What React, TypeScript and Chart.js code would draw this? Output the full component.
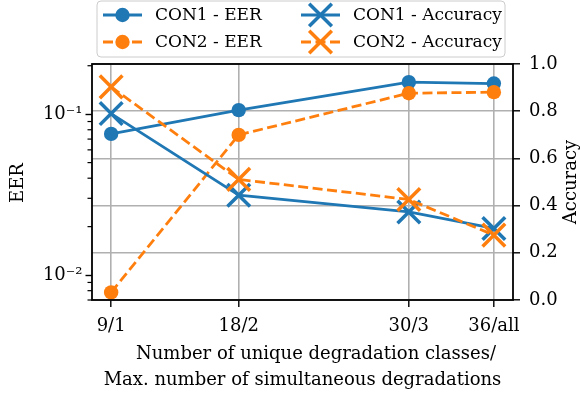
import React, { useEffect, useRef } from "react";
import { Chart, registerables } from "chart.js";
Chart.register(...registerables);

const xPositions = [9, 18, 30, 36];
const xLabels = ["9/1", "18/2", "30/3", "36/all"];
const con1EER = [0.0754, 0.106, 0.158, 0.155];
const con2EER = [0.0078, 0.0743, 0.135, 0.137];
const con1Acc = [0.79, 0.444, 0.373, 0.303];
const con2Acc = [0.903, 0.511, 0.426, 0.275];
const accTicks = [0, 0.2, 0.4, 0.6, 0.8, 1.0];
const eerMajorTicks = [0.01, 0.1];
const eerMajorLabels = ["10\u207B\u00B2", "10\u207B\u00B9"];
const eerMinorTicks = [0.007, 0.008, 0.009, 0.02, 0.03, 0.04, 0.05, 0.06, 0.07, 0.08, 0.09, 0.2];
const seriesNames = ["CON1 - EER", "CON2 - EER", "CON1 - Accuracy", "CON2 - Accuracy"];

const BLUE = "#1f77b4";
const ORANGE = "#ff7f0e";
const FONT = "DejaVu Serif";
const FS = 18;
const LEG_FS = 17;
const LW = 2.8;
const DASH = [10, 4.5];
const DOT_R = 7.2;
const X_R = 16;
const X_W = 3.5;

function pts(vals: number[]) {
  return xPositions.map((x, i) => ({ x, y: vals[i] }));
}

function drawX(ctx: CanvasRenderingContext2D, x: number, y: number, r: number, color: string) {
  const o = r * Math.SQRT1_2;
  ctx.save();
  ctx.setLineDash([]);
  ctx.strokeStyle = color;
  ctx.lineWidth = X_W;
  ctx.beginPath();
  ctx.moveTo(x - o, y - o);
  ctx.lineTo(x + o, y + o);
  ctx.moveTo(x - o, y + o);
  ctx.lineTo(x + o, y - o);
  ctx.stroke();
  ctx.restore();
}

function drawDot(ctx: CanvasRenderingContext2D, x: number, y: number, r: number, color: string) {
  ctx.save();
  ctx.fillStyle = color;
  ctx.beginPath();
  ctx.arc(x, y, r, 0, Math.PI * 2);
  ctx.fill();
  ctx.restore();
}

const decorPlugin = {
  id: "decor",
  afterDraw(chart: any) {
    const ctx: CanvasRenderingContext2D = chart.ctx;
    const a = chart.chartArea;
    const yL = chart.scales.yL;
    ctx.save();
    // frame
    ctx.strokeStyle = "#000";
    ctx.lineWidth = 1.8;
    ctx.strokeRect(a.left, a.top, a.right - a.left, a.bottom - a.top);
    // minor ticks
    ctx.lineWidth = 1.2;
    for (const v of eerMinorTicks) {
      const y = yL.getPixelForValue(v);
      if (y < a.top - 0.5 || y > a.bottom + 0.5) continue;
      ctx.beginPath();
      ctx.moveTo(a.left - 4.5, y);
      ctx.lineTo(a.left, y);
      ctx.stroke();
    }
    // axis titles
    ctx.fillStyle = "#000";
    ctx.font = `${FS}px "${FONT}"`;
    ctx.textAlign = "center";
    ctx.textBaseline = "alphabetic";
    ctx.fillText("Number of unique degradation classes/", 316, 359);
    ctx.fillText("Max. number of simultaneous degradations", 302.5, 385);
    ctx.save();
    ctx.translate(23, 183);
    ctx.rotate(-Math.PI / 2);
    ctx.fillText("EER", 0, 0);
    ctx.restore();
    ctx.save();
    ctx.translate(576, 182);
    ctx.rotate(-Math.PI / 2);
    ctx.fillText("Accuracy", 0, 0);
    ctx.restore();

    // legend
    const bx = 97, by = 1, bw = 408, bh = 56, rr = 4;
    ctx.beginPath();
    ctx.moveTo(bx + rr, by);
    ctx.lineTo(bx + bw - rr, by);
    ctx.quadraticCurveTo(bx + bw, by, bx + bw, by + rr);
    ctx.lineTo(bx + bw, by + bh - rr);
    ctx.quadraticCurveTo(bx + bw, by + bh, bx + bw - rr, by + bh);
    ctx.lineTo(bx + rr, by + bh);
    ctx.quadraticCurveTo(bx, by + bh, bx, by + bh - rr);
    ctx.lineTo(bx, by + rr);
    ctx.quadraticCurveTo(bx, by, bx + rr, by);
    ctx.closePath();
    ctx.fillStyle = "rgba(255,255,255,0.8)";
    ctx.fill();
    ctx.strokeStyle = "#cccccc";
    ctx.lineWidth = 1;
    ctx.stroke();

    const entries = [
      { col: 0, row: 0, color: BLUE, dash: [] as number[], marker: "o" },
      { col: 0, row: 1, color: ORANGE, dash: DASH, marker: "o" },
      { col: 1, row: 0, color: BLUE, dash: [] as number[], marker: "x" },
      { col: 1, row: 1, color: ORANGE, dash: DASH, marker: "x" },
    ];
    const colX = [103, 301];
    const rowY = [15, 42];
    entries.forEach((e, i) => {
      const x0 = colX[e.col];
      const y0 = rowY[e.row];
      ctx.save();
      ctx.strokeStyle = e.color;
      ctx.lineWidth = LW;
      ctx.setLineDash(e.dash);
      ctx.beginPath();
      ctx.moveTo(x0, y0);
      ctx.lineTo(x0 + 39, y0);
      ctx.stroke();
      ctx.restore();
      if (e.marker === "o") drawDot(ctx, x0 + 19.5, y0, DOT_R, e.color);
      else drawX(ctx, x0 + 19.5, y0, X_R, e.color);
      ctx.fillStyle = "#000";
      ctx.font = `${LEG_FS}px "${FONT}"`;
      ctx.textAlign = "left";
      ctx.textBaseline = "middle";
      ctx.fillText(seriesNames[i], x0 + 52, y0 + 1);
    });
    ctx.restore();
  },
};

export default function App() {
  const ref = useRef<HTMLCanvasElement | null>(null);
  useEffect(() => {
    if (!ref.current) return;
    const tickFont = { family: FONT, size: FS };
    const mk = (label: string, vals: number[], axis: string, color: string, dashed: boolean, marker: string, order: number) => ({
      label,
      data: pts(vals),
      yAxisID: axis,
      borderColor: color,
      backgroundColor: color,
      borderWidth: LW,
      borderDash: dashed ? DASH : [],
      pointStyle: marker === "o" ? "circle" : "crossRot",
      pointRadius: marker === "o" ? DOT_R : X_R,
      pointBorderWidth: marker === "o" ? 0 : X_W,
      pointBorderColor: color,
      pointBackgroundColor: color,
      order,
      clip: false,
    });
    const chart = new Chart(ref.current, {
      type: "line",
      data: {
        datasets: [
          mk(seriesNames[0], con1EER, "yL", BLUE, false, "o", 4),
          mk(seriesNames[1], con2EER, "yL", ORANGE, true, "o", 3),
          mk(seriesNames[2], con1Acc, "yR", BLUE, false, "x", 2),
          mk(seriesNames[3], con2Acc, "yR", ORANGE, true, "x", 1),
        ],
      },
      options: {
        animation: false,
        responsive: false,
        maintainAspectRatio: false,
        layout: { padding: { top: 64, left: 0, right: 0, bottom: 0 } },
        plugins: { legend: { display: false }, tooltip: { enabled: false } },
        scales: {
          x: {
            type: "linear",
            position: "bottom",
            min: 7.65,
            max: 37.35,
            afterBuildTicks: (s: any) => {
              s.ticks = xPositions.map((v) => ({ value: v }));
            },
            afterFit: (s: any) => {
              s.height = 94;
            },
            ticks: {
              font: tickFont,
              color: "#000",
              padding: 9,
              maxRotation: 0,
              autoSkip: false,
              callback: (v: any) => xLabels[xPositions.indexOf(Number(v))] ?? "",
            },
            grid: {
              color: "#b0b0b0",
              lineWidth: 1.6,
              drawTicks: true,
              tickLength: 7,
              tickColor: "#000",
              tickWidth: 1.4,
            },
            border: { display: false },
          },
          yL: {
            type: "logarithmic",
            position: "left",
            min: 0.007,
            max: 0.205,
            afterBuildTicks: (s: any) => {
              s.ticks = eerMajorTicks.map((v) => ({ value: v, major: true }));
            },
            afterFit: (s: any) => {
              s.width = 92;
            },
            ticks: {
              font: tickFont,
              color: "#000",
              padding: 3,
              autoSkip: false,
              callback: (v: any) => {
                const i = eerMajorTicks.findIndex((t) => Math.abs(t - Number(v)) < 1e-9);
                return i >= 0 ? eerMajorLabels[i] : "";
              },
            },
            grid: {
              drawOnChartArea: false,
              drawTicks: true,
              tickLength: 6.5,
              tickColor: "#000",
              tickWidth: 1.4,
            },
            border: { display: false },
          },
          yR: {
            type: "linear",
            position: "right",
            min: 0,
            max: 1,
            afterBuildTicks: (s: any) => {
              s.ticks = accTicks.map((v) => ({ value: v }));
            },
            afterFit: (s: any) => {
              s.width = 68;
            },
            ticks: {
              font: tickFont,
              color: "#000",
              padding: 9,
              autoSkip: false,
              callback: (v: any) => Number(v).toFixed(1),
            },
            grid: {
              color: "#b0b0b0",
              lineWidth: 1.6,
              drawOnChartArea: true,
              drawTicks: true,
              tickLength: 7,
              tickColor: "#000",
              tickWidth: 1.4,
            },
            border: { display: false },
          },
        },
      },
      plugins: [decorPlugin],
    } as any);
    return () => chart.destroy();
  }, []);
  return (
    <div style={{ position: "absolute", left: 0, top: 0, width: 581, height: 394, background: "#fff" }}>
      <canvas ref={ref} width={581} height={394} style={{ display: "block" }} />
    </div>
  );
}
